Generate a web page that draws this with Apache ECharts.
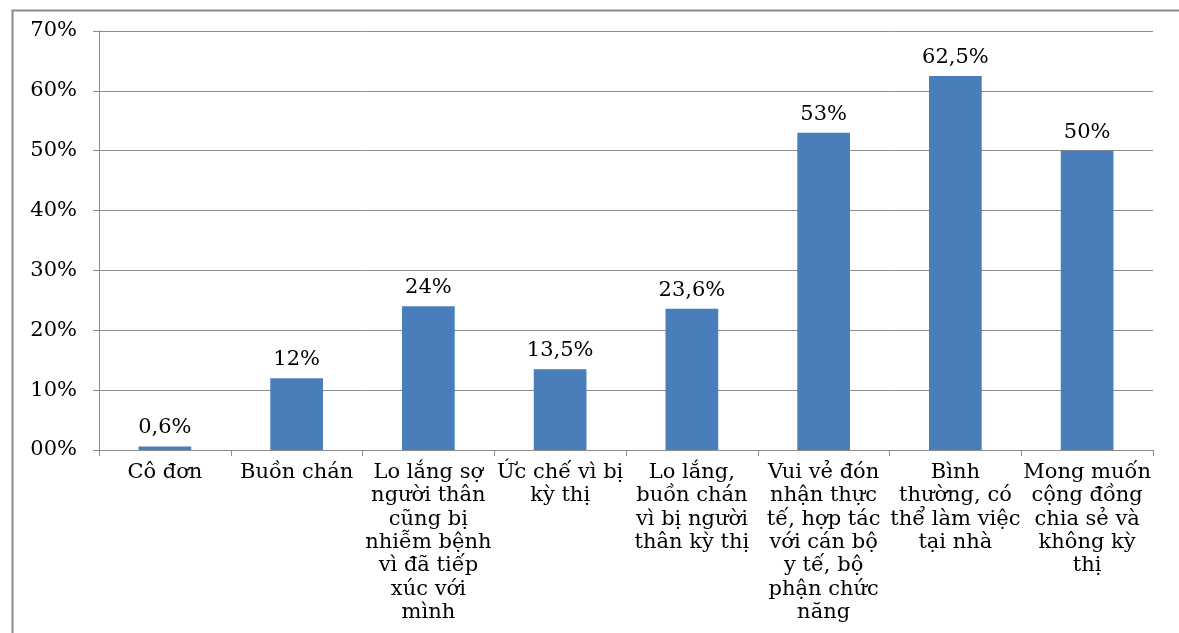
<!DOCTYPE html>
<html>
<head>
<meta charset="utf-8">
<script src="https://cdn.jsdelivr.net/npm/echarts@6/dist/echarts.min.js"></script>
<style>
  html, body { margin: 0; padding: 0; background: #fff; }
  #chart { width: 1179px; height: 633px; }
</style>
</head>
<body>
<div id="chart"></div>
<script>
// Categories (multi-line labels, broken as displayed under each bar)
const categories = [
  'Cô đơn',
  'Buồn chán',
  'Lo lắng sợ\nngười thân\ncũng bị\nnhiễm bệnh\nvì đã tiếp\nxúc với\nmình',
  'Ức chế vì bị\nkỳ thị',
  'Lo lắng,\nbuồn chán\nvì bị người\nthân kỳ thị',
  'Vui vẻ đón\nnhận thực\ntế, hợp tác\nvới cán bộ\ny tế, bộ\nphận chức\nnăng',
  'Bình\nthường, có\nthể làm việc\ntại nhà',
  'Mong muốn\ncộng đồng\nchia sẻ và\nkhông kỳ\nthị'
];

// Percentages per category
const values = [0.6, 12, 24, 13.5, 23.6, 53, 62.5, 50];

// Y-axis tick labels, 0..70 step 10
const yTickLabels = ['00%', '10%', '20%', '30%', '40%', '50%', '60%', '70%'];

const FONT = '"DejaVu Serif", "Liberation Serif", serif';
const GRID_GRAY = '#8c8c8c';

const chart = echarts.init(document.getElementById('chart'), null, { renderer: 'canvas' });

chart.setOption({
  backgroundColor: '#ffffff',
  animation: false,
  textStyle: { fontFamily: FONT, color: '#000' },
  graphic: [{
    type: 'rect',
    left: 10,
    top: 8,
    shape: { width: 1200, height: 660 },
    style: { fill: 'none', stroke: '#8a8a8a', lineWidth: 2 },
    silent: true,
    z: 100
  }],
  grid: { left: 99, right: 26, top: 31, bottom: 183, containLabel: false },
  xAxis: {
    type: 'category',
    data: categories,
    axisLine: { show: true, lineStyle: { color: GRID_GRAY, width: 1 } },
    axisTick: { show: true, alignWithLabel: false, length: 6, lineStyle: { color: GRID_GRAY } },
    axisLabel: {
      interval: 0,
      margin: 11,
      fontFamily: FONT,
      fontSize: 21,
      lineHeight: 23.3,
      color: '#000',
      align: 'center'
    }
  },
  yAxis: {
    type: 'value',
    min: 0,
    max: 70,
    interval: 10,
    axisLine: { show: true, lineStyle: { color: GRID_GRAY, width: 1 } },
    axisTick: { show: true, length: 6, lineStyle: { color: GRID_GRAY } },
    splitLine: { show: true, lineStyle: { color: GRID_GRAY, width: 1 } },
    axisLabel: {
      margin: 22,
      fontFamily: FONT,
      fontSize: 21,
      color: '#000',
      formatter: function (v) { return yTickLabels[Math.round(v / 10)]; }
    }
  },
  series: [{
    type: 'bar',
    data: values,
    barWidth: '40%',
    itemStyle: { color: '#4a7ebb' },
    label: {
      show: true,
      position: 'top',
      distance: 8,
      fontFamily: FONT,
      fontSize: 21,
      color: '#000',
      formatter: function (p) { return String(p.value).replace('.', ',') + '%'; }
    }
  }]
});
</script>
</body>
</html>
